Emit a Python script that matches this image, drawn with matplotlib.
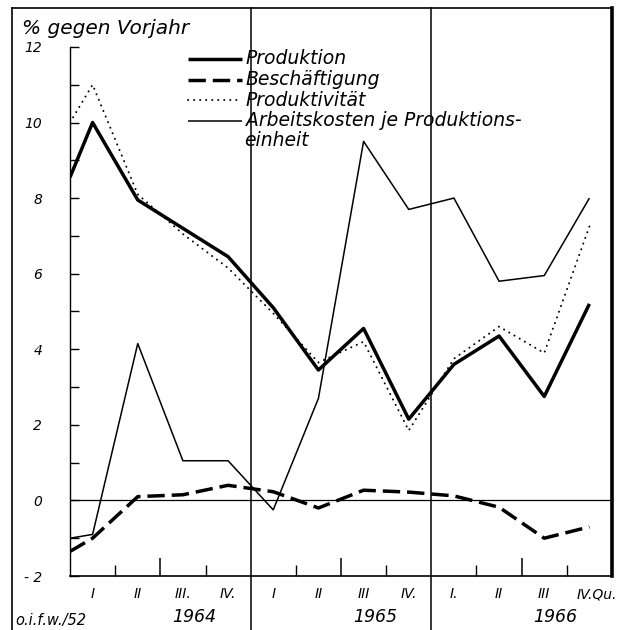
import matplotlib

matplotlib.use("Agg")
import matplotlib.pyplot as plt  # noqa: E402
import numpy as np  # noqa: E402
from matplotlib.lines import Line2D  # noqa: E402

W, H = 619, 630

# first value sits on the left axis (carried over from the preceding quarter)
QUARTERS = ["I", "II", "III.", "IV.", "I", "II", "III", "IV.", "I.", "II", "III", "IV.Qu."]
YEARS = ["1964", "1965", "1966"]
produktion = [8.55, 10.0, 7.95, 7.2, 6.45, 5.1, 3.45, 4.55, 2.15, 3.6, 4.35, 2.75, 5.2]
beschaeftigung = [-1.35, -1.0, 0.1, 0.15, 0.4, 0.23, -0.2, 0.27, 0.22, 0.12, -0.18, -1.0, -0.7]
produktivitaet = [10.0, 11.0, 8.1, 7.05, 6.15, 4.95, 3.65, 4.2, 1.85, 3.75, 4.6, 3.9, 7.25]
arbeitskosten = [-1.0, -0.9, 4.15, 1.05, 1.05, -0.25, 2.7, 9.5, 7.7, 8.0, 5.8, 5.95, 8.0]

SERIES = [
    ("Produktion", produktion, dict(lw=2.5, ls="-")),
    ("Beschäftigung", beschaeftigung, dict(lw=2.5, ls=(0, (5, 2)))),
    ("Produktivität", produktivitaet, dict(lw=1.4, ls=(0, (0.1, 3.0)), dash_capstyle="round")),
    ("Arbeitskosten je Produktions-", arbeitskosten, dict(lw=1.1, ls="-")),
]

FONT = "DejaVu Sans"


def fx(px):
    return px / W


def fy(py):
    return 1 - py / H


def main():
    plt.rcParams["font.family"] = [FONT]
    fig = plt.figure(figsize=(W / 100, H / 100), dpi=100)
    ax = fig.add_axes([fx(70), fy(576), (612 - 70) / W, (576 - 8) / H])

    x = np.concatenate(([-0.5], np.arange(len(QUARTERS))))
    for name, vals, st in SERIES:
        ax.plot(x, vals, color="black", solid_capstyle="butt", **st)

    ax.axhline(0, color="black", lw=0.9)
    for b in (3.5, 7.5):
        ax.axvline(b, ymin=-0.095, ymax=1, color="black", lw=1.1, clip_on=False)

    ax.set_xlim(-0.5, 11.5)
    ax.set_ylim(-2, 13.03)

    ax.spines["top"].set_visible(False)
    ax.spines["left"].set_bounds(-2, 12)
    ax.spines["left"].set_linewidth(1.0)
    ax.spines["bottom"].set_linewidth(1.2)
    ax.spines["right"].set_linewidth(2.6)

    yt = np.arange(-2, 13, 2)
    ax.set_yticks(yt)
    ax.set_yticklabels(["- 2" if v < 0 else str(v) for v in yt], fontstyle="italic", fontsize=10)
    ax.set_yticks(np.arange(-1, 12, 2), minor=True)
    ax.tick_params(axis="y", which="both", direction="in", length=6.5, width=1.0, pad=20)

    ax.set_xticks([1.5, 5.5, 9.5])
    ax.set_xticks([0.5, 2.5, 4.5, 6.5, 8.5, 10.5], minor=True)
    ax.tick_params(axis="x", which="major", direction="in", length=13, width=1.1, labelbottom=False)
    ax.tick_params(axis="x", which="minor", direction="in", length=8, width=1.0, labelbottom=False)

    trans = ax.get_xaxis_transform()
    for i, q in enumerate(QUARTERS):
        if q.endswith("Qu."):
            ax.text(i - 0.28, -0.02, q, transform=trans, ha="left", va="top",
                    fontsize=10, fontstyle="italic")
        else:
            ax.text(i, -0.02, q, transform=trans, ha="center", va="top",
                    fontsize=10, fontstyle="italic")
    for k, yr in enumerate(YEARS):
        ax.text(4 * k + 2.25, -0.072, yr, transform=trans, ha="center", va="center",
                fontsize=12.5, fontstyle="italic")

    # outer frame
    fig.add_artist(Line2D([fx(12), fx(12)], [fy(8), fy(630)], color="black", lw=1.2))
    fig.add_artist(Line2D([fx(12), fx(612)], [fy(8), fy(8)], color="black", lw=1.2))

    fig.text(fx(22), fy(28), "% gegen Vorjahr", fontsize=14.5, fontstyle="italic",
             ha="left", va="center")
    fig.text(fx(15), fy(621), "o.i.f.w./52", fontsize=10.5, fontstyle="italic",
             ha="left", va="center")

    # legend, drawn by hand so the two-line label keeps its sample on the first line
    for j, (name, _, st) in enumerate(SERIES):
        yy = fy(59 + 20.5 * j)
        fig.add_artist(Line2D([fx(188), fx(242)], [yy, yy], color="black",
                              solid_capstyle="butt", **st))
        fig.text(fx(246), yy, name, fontsize=13.5, fontstyle="italic", ha="left", va="center")
    fig.text(fx(244), fy(59 + 20.5 * 4), "einheit", fontsize=13.5, fontstyle="italic",
             ha="left", va="center")

    fig.savefig("out.png", dpi=100)


if __name__ == "__main__":
    main()
